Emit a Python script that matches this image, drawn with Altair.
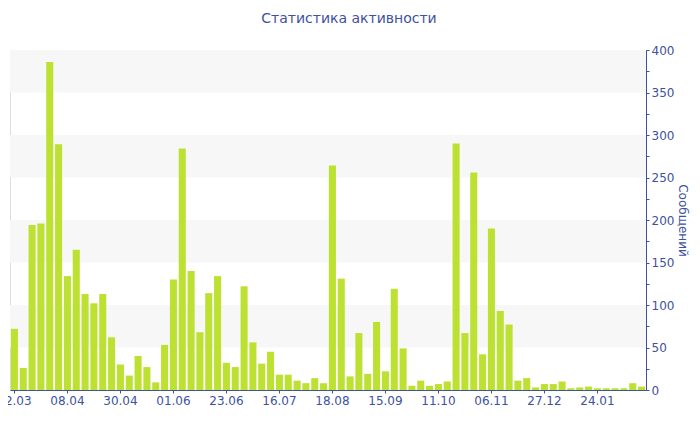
import altair as alt
import pandas as pd

title_text = "Статистика активности"
y_title = "Сообщений"
tick_labels = ["12.03", "08.04", "30.04", "01.06", "23.06", "16.07",
               "18.08", "15.09", "11.10", "06.11", "27.12", "24.01"]
messages = [72, 26, 194, 196, 386, 289, 134, 165, 113, 102, 113, 62, 30, 17, 40, 27,
            9, 53, 130, 284, 140, 68, 114, 134, 32, 27,
            122, 56, 31, 45, 18, 18, 11, 8, 14, 8, 264, 131, 16, 67, 19, 80, 22, 119,
            49, 5, 11, 5, 7, 10, 290, 67,
            256, 42, 190, 93, 77, 11, 14, 3, 7, 7, 10, 2, 3, 4, 2, 2, 2, 2, 8, 4]

BLUE = "#3d52a0"
GREEN = "#bde132"
FONT = "DejaVu Sans"
label_step = 6
y_max = 400
y_step = 50

df = pd.DataFrame({"idx": list(range(len(messages))), "value": messages})
bands = pd.DataFrame({
    "lo": list(range(y_step, y_max, 2 * y_step)),
    "hi": [v + y_step for v in range(y_step, y_max, 2 * y_step)],
})

label_array = "[" + ",".join("'" + t + "'" for t in tick_labels) + "]"

y_scale = alt.Scale(domain=[0, y_max], nice=False)
y_axis = alt.Axis(orient="right", values=list(range(0, y_max + 1, y_step // 2)),
                  labelExpr="datum.value % " + str(y_step) + " == 0 ? datum.label : ''",
                  grid=False, title=y_title, titleColor=BLUE, titleFont=FONT,
                  titleFontSize=12, titleFontWeight="normal", titlePadding=2,
                  domainColor=BLUE, tickColor=BLUE, labelColor=BLUE,
                  labelFont=FONT, labelFontSize=12, tickSize=3, labelPadding=2)

band_layer = alt.Chart(bands).mark_rect(color="#f7f7f7").encode(
    y=alt.Y("lo:Q", scale=y_scale, axis=y_axis, title=y_title),
    y2="hi:Q",
)

bars = alt.Chart(df).mark_bar(color=GREEN).encode(
    x=alt.X("idx:O",
            scale=alt.Scale(paddingInner=0.2, paddingOuter=0.1),
            axis=alt.Axis(values=list(range(0, len(messages), label_step)),
                          labelExpr=label_array + "[datum.value/" + str(label_step) + "]",
                          labelAngle=0, title=None, domainColor=BLUE, tickColor=BLUE,
                          labelColor=BLUE, labelFont=FONT, labelFontSize=12,
                          tickSize=3, labelPadding=2)),
    y=alt.Y("value:Q", scale=y_scale, axis=y_axis, title=y_title),
)

chart = alt.layer(band_layer, bars).properties(
    width=636,
    height=340,
    title=alt.TitleParams(title_text, color=BLUE, font=FONT, fontSize=14,
                          fontWeight="normal", anchor="middle", offset=18, dx=21),
    autosize=alt.AutoSizeParams(type="none"),
    padding={"left": 2, "top": 42, "right": 46, "bottom": 32},
).configure_view(stroke=None).configure(background="white")

chart.save("out.html", embed_options={"renderer": "svg", "actions": False})
